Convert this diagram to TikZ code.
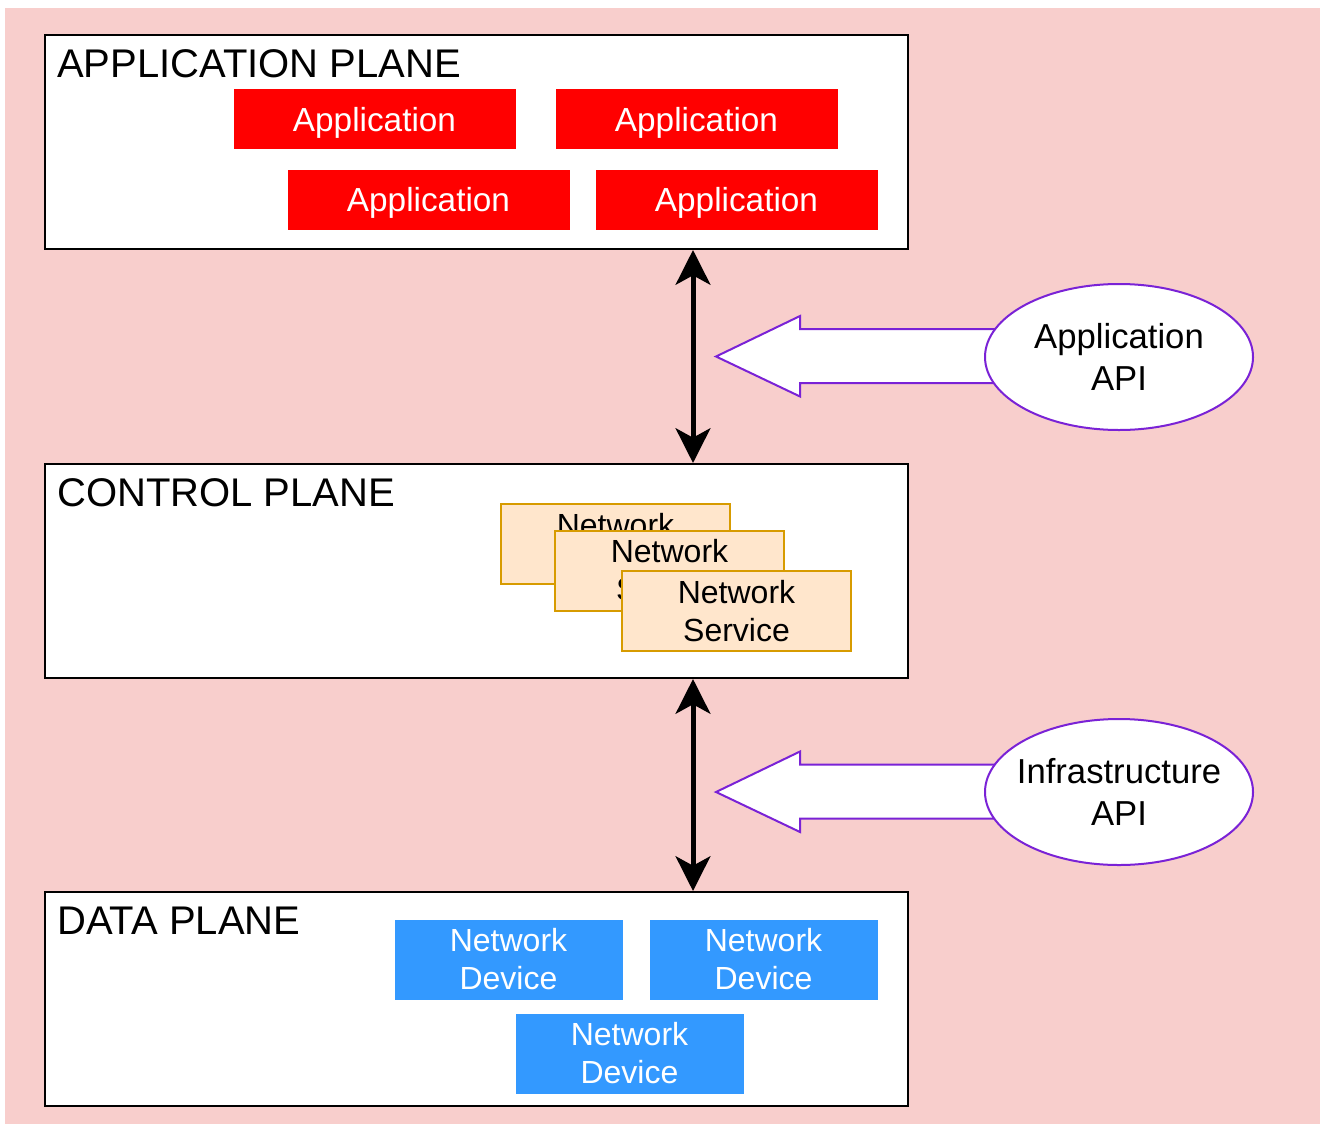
\documentclass[tikz,border=0pt]{standalone}
\usepackage{fontspec}
\setmainfont{Liberation Sans}
\usetikzlibrary{arrows.meta,shapes.geometric}

\definecolor{bgpink}{HTML}{F8CECC}
\definecolor{appred}{HTML}{FF0000}
\definecolor{devblue}{HTML}{3399FF}
\definecolor{svcfill}{HTML}{FFE6CC}
\definecolor{svcline}{HTML}{D79B00}
\definecolor{apiline}{HTML}{7A22D6}

\tikzset{
  px/.style={x=0.75pt,y=-0.75pt},
  plane/.style={draw=black,fill=white,line width=1.5pt,minimum width=863*0.75pt,minimum height=214*0.75pt,inner sep=0pt},
  planelabel/.style={anchor=base west,inner sep=0pt,font=\fontsize{30}{36}\selectfont},
  appbox/.style={fill=appred,draw=appred,text=white,minimum width=281*0.75pt,minimum height=59*0.75pt,inner sep=0pt,text depth=0pt,font=\fontsize{25}{30}\selectfont},
  svcbox/.style={fill=svcfill,draw=svcline,line width=1.5pt,minimum width=229*0.75pt,minimum height=80*0.75pt,inner sep=0pt,align=center,font=\fontsize{24}{28.5}\selectfont},
  devbox/.style={fill=devblue,draw=devblue,text=white,minimum width=227*0.75pt,minimum height=79*0.75pt,inner sep=0pt,align=center,font=\fontsize{24}{28.5}\selectfont},
  apinode/.style={ellipse,draw=apiline,fill=white,line width=1.5pt,minimum width=268*0.75pt,minimum height=146*0.75pt,inner xsep=-8pt,inner ysep=0pt,align=center,font=\fontsize{26}{31}\selectfont},
  blockarrow/.style={draw=apiline,fill=white,line width=1.5pt,line join=miter},
  dbl/.style={line width=3.75pt,{Stealth[length=26pt,width=26pt,inset=7pt]}-{Stealth[length=26pt,width=26pt,inset=7pt]}}
}

\begin{document}
\begin{tikzpicture}[px]
  \useasboundingbox (0,0) rectangle (1326,1124);
  \fill[white] (0,0) rectangle (1326,1124);
  \fill[bgpink] (5,8) rectangle (1320,1124);

  % planes
  \node[plane] (app) at (476.5,142) {};
  \node[plane] (ctl) at (476.5,571) {};
  \node[plane] (dat) at (476.5,999) {};
  \node[planelabel] (applbl) at (57,77) {APPLICATION PLANE};
  \node[planelabel] (ctllbl) at (57,506) {CONTROL PLANE};
  \node[planelabel] (datlbl) at (57,934) {DATA PLANE};

  % applications
  \node[appbox] (app1) at (374.5,119) {Application};
  \node[appbox] (app2) at (696.5,119) {Application};
  \node[appbox] (app3) at (428.5,199.5) {Application};
  \node[appbox] (app4) at (736.5,199.5) {Application};

  % stacked network services
  \node[svcbox] (svc1) at (615.5,544) {Network\\Service};
  \node[svcbox] (svc2) at (669.5,570.5) {Network\\Service};
  \node[svcbox] (svc3) at (736.5,611) {Network\\Service};

  % network devices
  \node[devbox] (dev1) at (508.5,959.5) {Network\\Device};
  \node[devbox] (dev2) at (763.5,959.5) {Network\\Device};
  \node[devbox] (dev3) at (629.5,1053.5) {Network\\Device};

  % interfaces between planes
  \coordinate (bus) at (693,0);
  \draw[dbl] (app.south -| bus) -- (ctl.north -| bus);
  \draw[dbl] (ctl.south -| bus) -- (dat.north -| bus);

  % northbound API
  \coordinate (tipA) at (716,356.5);
  \draw[blockarrow] (tipA) -- ++(84,-40.5) -- ++(0,13) -- ++(210,0) -- ++(0,54) -- ++(-210,0) -- ++(0,13.5) -- cycle;
  \node[apinode] (apiA) at (1119,357) {Application\\API};

  % southbound API
  \coordinate (tipB) at (716,792);
  \draw[blockarrow] (tipB) -- ++(84,-40.5) -- ++(0,13) -- ++(210,0) -- ++(0,54) -- ++(-210,0) -- ++(0,13.5) -- cycle;
  \node[apinode] (apiB) at (1119,792) {Infrastructure\\API};
\end{tikzpicture}
\end{document}
